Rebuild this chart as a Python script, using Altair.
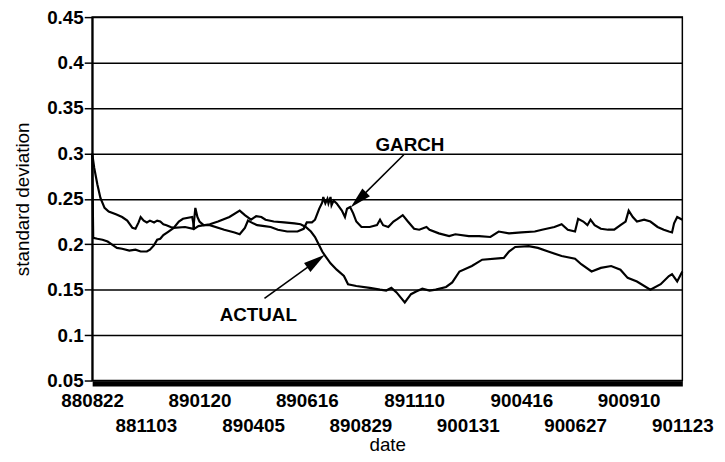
import altair as alt
import pandas as pd

# ---- data ----
tick_labels = ["880822", "881103", "890120", "890405", "890616", "890829",
               "891110", "900131", "900416", "900627", "900910", "901123"]
label_step = 52  # trading days between consecutive date labels
last_day = label_step * (len(tick_labels) - 1)

garch_day = [0, 2, 5, 8, 12, 16, 23, 29, 34, 39, 42, 45, 47, 50, 53, 56, 60, 63, 66, 69,
             72, 76, 79, 90, 98, 100, 102, 104, 108, 114, 128, 138, 143, 148, 151, 156,
             160, 167, 173, 180, 189, 199, 205, 208, 213, 216, 220, 223, 224, 226, 228,
             229, 231, 232, 234, 237, 242, 245, 247, 250, 253, 256, 261, 269, 276, 279,
             282, 287, 292, 296, 301, 306, 312, 317, 324, 327, 336, 346, 352, 365, 375,
             386, 394, 404, 416, 429, 436, 448, 455, 461, 468, 471, 476, 480, 483, 487,
             493, 500, 506, 512, 517, 520, 524, 528, 535, 541, 548, 554, 559, 562, 564,
             567, 572]
garch_sd = [0.300, 0.284, 0.266, 0.251, 0.240, 0.236, 0.233, 0.230, 0.226, 0.218, 0.217,
            0.224, 0.230, 0.226, 0.224, 0.226, 0.224, 0.226, 0.225, 0.222, 0.221, 0.219,
            0.218, 0.219, 0.217, 0.240, 0.230, 0.225, 0.221, 0.221, 0.216, 0.213, 0.211,
            0.218, 0.226, 0.223, 0.221, 0.220, 0.219, 0.216, 0.214, 0.214, 0.217, 0.224,
            0.224, 0.227, 0.239, 0.246, 0.252, 0.245, 0.250, 0.245, 0.252, 0.243, 0.248,
            0.245, 0.237, 0.230, 0.239, 0.241, 0.234, 0.225, 0.219, 0.219, 0.221, 0.227,
            0.221, 0.219, 0.225, 0.228, 0.232, 0.225, 0.217, 0.216, 0.219, 0.216, 0.212,
            0.209, 0.211, 0.209, 0.209, 0.208, 0.214, 0.212, 0.213, 0.214, 0.216, 0.219,
            0.222, 0.216, 0.214, 0.228, 0.225, 0.221, 0.227, 0.221, 0.217, 0.216, 0.216,
            0.221, 0.225, 0.237, 0.230, 0.225, 0.227, 0.225, 0.219, 0.216, 0.214, 0.213,
            0.223, 0.230, 0.227]

actual_day = [0, 1, 5, 10, 15, 20, 24, 29, 36, 42, 47, 53, 56, 60, 63, 66, 69, 74, 79, 84,
              88, 97, 99, 103, 114, 122, 133, 143, 148, 154, 159, 164, 168, 176, 186, 196,
              202, 207, 212, 216, 220, 223, 226, 231, 237, 244, 248, 256, 269, 279, 285,
              290, 295, 303, 309, 314, 320, 327, 333, 343, 349, 356, 368, 378, 399, 404,
              410, 423, 432, 442, 455, 468, 474, 484, 493, 503, 512, 519, 528, 541, 551,
              559, 562, 567, 572]
actual_sd = [0.299, 0.207, 0.206, 0.205, 0.203, 0.199, 0.196, 0.195, 0.193, 0.194, 0.192,
             0.192, 0.194, 0.199, 0.205, 0.206, 0.210, 0.214, 0.218, 0.225, 0.228, 0.230,
             0.217, 0.220, 0.222, 0.225, 0.230, 0.237, 0.232, 0.227, 0.231, 0.230, 0.227,
             0.225, 0.224, 0.223, 0.222, 0.219, 0.214, 0.208, 0.199, 0.192, 0.187, 0.179,
             0.172, 0.165, 0.156, 0.154, 0.152, 0.150, 0.149, 0.152, 0.147, 0.136, 0.145,
             0.148, 0.151, 0.149, 0.150, 0.153, 0.158, 0.170, 0.176, 0.183, 0.185, 0.192,
             0.197, 0.198, 0.196, 0.192, 0.187, 0.184, 0.178, 0.170, 0.174, 0.176, 0.172,
             0.163, 0.159, 0.150, 0.156, 0.165, 0.167, 0.159, 0.170]

y_ticks = [0.05, 0.1, 0.15, 0.2, 0.25, 0.3, 0.35, 0.4, 0.45]

# annotations (in data units)
ann_text = ["GARCH", "ACTUAL"]
ann_text_day = [308, 161]
ann_text_sd = [0.309, 0.122]
arrow_from_day = [302, 167]
arrow_from_sd = [0.2985, 0.1404]
arrow_to_day = [258, 217]
arrow_to_sd = [0.2488, 0.1814]
arrow_angle = [225.6, 54.2]

# ---- tables ----
lines_df = pd.concat([
    pd.DataFrame({"day": garch_day, "sd": garch_sd, "series": "GARCH"}),
    pd.DataFrame({"day": actual_day, "sd": actual_sd, "series": "ACTUAL"}),
])
text_df = pd.DataFrame({"label": ann_text, "day": ann_text_day, "sd": ann_text_sd})
arrow_df = pd.DataFrame({"day": arrow_from_day, "sd": arrow_from_sd,
                         "day2": arrow_to_day, "sd2": arrow_to_sd,
                         "angle": arrow_angle})

FONT = "Liberation Sans"
x_scale = alt.Scale(domain=[0, last_day], nice=False, zero=False)
y_scale = alt.Scale(domain=[0.05, 0.45], nice=False, zero=False)

arr = "[" + ",".join("'%s'" % s for s in tick_labels) + "]"
idx = "round(datum.value / %d)" % label_step
label_expr = "(%s %% 2 == 1) ? ['', %s[%s]] : %s[%s]" % (idx, arr, idx, arr, idx)

x_axis = alt.Axis(
    values=[i * label_step for i in range(len(tick_labels))],
    labelExpr=label_expr,
    title="date",
    titleFont=FONT, titleFontSize=19, titleFontWeight="normal", titleColor="black",
    titlePadding=0,
    labelFont=FONT, labelFontSize=19, labelFontWeight="bold", labelColor="black",
    labelLineHeight=26, labelPadding=8, labelFlush=False, labelOverlap=False,
    ticks=False, domainColor="black", domainWidth=5, offset=3, grid=False,
)
y_axis = alt.Axis(
    values=y_ticks, format=".2~f",
    title="standard deviation",
    titleFont=FONT, titleFontSize=19, titleFontWeight="normal", titleColor="black",
    titlePadding=14,
    labelFont=FONT, labelFontSize=19, labelFontWeight="bold", labelColor="black",
    labelPadding=1,
    tickSize=8, tickColor="black", tickWidth=1.5,
    domainColor="black", domainWidth=2,
    grid=True, gridColor="black", gridWidth=1.5, gridOpacity=1,
)

lines = alt.Chart(lines_df).mark_line(color="black", strokeWidth=2.2).encode(
    x=alt.X("day:Q", scale=x_scale, axis=x_axis),
    y=alt.Y("sd:Q", scale=y_scale, axis=y_axis),
    detail="series:N",
)

labels = alt.Chart(text_df).mark_text(
    font=FONT, fontSize=19, fontWeight="bold", color="black",
    align="center", baseline="middle",
).encode(x=alt.X("day:Q", scale=x_scale), y=alt.Y("sd:Q", scale=y_scale), text="label:N")

arrow_lines = alt.Chart(arrow_df).mark_rule(color="black", strokeWidth=1.6).encode(
    x=alt.X("day:Q", scale=x_scale), y=alt.Y("sd:Q", scale=y_scale),
    x2="day2:Q", y2="sd2:Q",
)

arrow_heads = alt.Chart(arrow_df).mark_point(
    shape="M0,-1L0.5,1L-0.5,1Z", filled=True, color="black", opacity=1, size=484,
).encode(
    x=alt.X("day2:Q", scale=x_scale), y=alt.Y("sd2:Q", scale=y_scale),
    angle=alt.Angle("angle:Q", scale=None),
)

chart = alt.layer(lines, arrow_lines, arrow_heads, labels).properties(
    width=596, height=367,
    padding={"left": 85, "top": 7, "right": 35, "bottom": 72},
    autosize=alt.AutoSizeParams(type="none"),
    background="white",
).configure_view(stroke="black", strokeWidth=1.5)

chart.save("out.html", embed_options={"renderer": "svg", "actions": False})
